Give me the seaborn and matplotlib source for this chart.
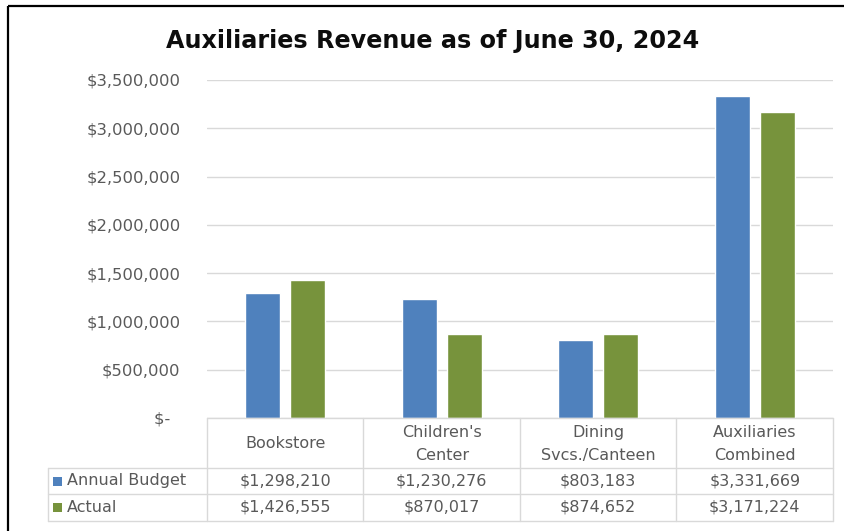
import matplotlib
matplotlib.use("Agg")
import matplotlib.pyplot as plt
import seaborn as sns
import pandas as pd
from matplotlib.patches import Rectangle
from matplotlib.ticker import FuncFormatter

# Chart data
categories = ["Bookstore", "Children's\nCenter", "Dining\nSvcs./Canteen", "Auxiliaries\nCombined"]
series_names = ["Annual Budget", "Actual"]
annual_budget = [1298210, 1230276, 803183, 3331669]
actual = [1426555, 870017, 874652, 3171224]
y_ticks = [0, 500000, 1000000, 1500000, 2000000, 2500000, 3000000, 3500000]
series_colors = ["#4F81BD", "#77933C"]

sns.set_theme(style="white")
plt.rcParams["font.family"] = ["DejaVu Sans"]

df = pd.DataFrame({
    "category": categories * 2,
    "series": [s for s in series_names for _ in categories],
    "value": annual_budget + actual,
})

W, H = 845, 531
fig = plt.figure(figsize=(W / 100, H / 100), dpi=100)
fig.patch.set_facecolor("white")

# plot area in pixel units
px_left, px_right = 207, 833
px_top, px_base = 80, 418
ax = fig.add_axes([px_left / W, 1 - px_base / H, (px_right - px_left) / W, (px_base - px_top) / H])

sns.barplot(data=df, x="category", y="value", hue="series", palette=series_colors,
            width=0.575, gap=0.22, saturation=1, legend=False, ax=ax)

ax.set_xlim(-0.5, len(categories) - 0.5)
ax.set_ylim(y_ticks[0], y_ticks[-1])
ax.set_yticks(y_ticks)
ax.yaxis.set_major_formatter(FuncFormatter(lambda v, p: "$-  " if v == 0 else f"${v:,.0f}"))
ax.set_xticks([])
ax.set_xlabel("")
ax.set_ylabel("")
ax.grid(axis="y", color="#D9D9D9", linewidth=1.0)
ax.set_axisbelow(True)
for s in ax.spines.values():
    s.set_visible(False)
ax.tick_params(axis="y", length=0, pad=19, labelsize=11.8, labelcolor="#595959")

# overlay in pixel coordinates for the data table and frame
ov = fig.add_axes([0, 0, 1, 1], facecolor="none")
ov.set_xlim(0, W)
ov.set_ylim(H, 0)
ov.axis("off")

line_kw = dict(color="#D9D9D9", linewidth=1.0)
col_edges = [px_left + i * (px_right - px_left) / len(categories) for i in range(len(categories) + 1)]
row_edges = [px_base, 468, 494, 521]
label_left = 48

ov.plot([px_left, px_right], [px_base, px_base], **line_kw)
for y in row_edges[1:]:
    ov.plot([label_left, px_right], [y, y], **line_kw)
for x in col_edges:
    ov.plot([x, x], [px_base, row_edges[-1]], **line_kw)
ov.plot([label_left, label_left], [row_edges[1], row_edges[-1]], **line_kw)

text_color = "#595959"
fs = 11.5
for i, cat in enumerate(categories):
    cx = (col_edges[i] + col_edges[i + 1]) / 2
    ov.text(cx, (row_edges[0] + row_edges[1]) / 2 + 1, cat, ha="center", va="center",
            fontsize=fs, color=text_color, linespacing=1.6)

for r, (name, vals, col) in enumerate(zip(series_names, [annual_budget, actual], series_colors)):
    cy = (row_edges[r + 1] + row_edges[r + 2]) / 2
    ov.add_patch(Rectangle((53, cy - 4.5), 9, 9, facecolor=col, edgecolor="none"))
    ov.text(67, cy, name, ha="left", va="center", fontsize=fs, color=text_color)
    for i, v in enumerate(vals):
        cx = (col_edges[i] + col_edges[i + 1]) / 2
        ov.text(cx, cy, f"${v:,.0f}", ha="center", va="center", fontsize=fs, color=text_color)

# outer frame (left and top edges)
ov.plot([8, 8], [6, H], color="black", linewidth=1.6, solid_capstyle="butt")
ov.plot([8, W], [6, 6], color="black", linewidth=1.6, solid_capstyle="butt")

ov.text(433, 41, "Auxiliaries Revenue as of June 30, 2024", ha="center", va="center",
        fontsize=17.2, fontweight="bold", color="#0D0D0D")

fig.savefig("out.png", dpi=100)
